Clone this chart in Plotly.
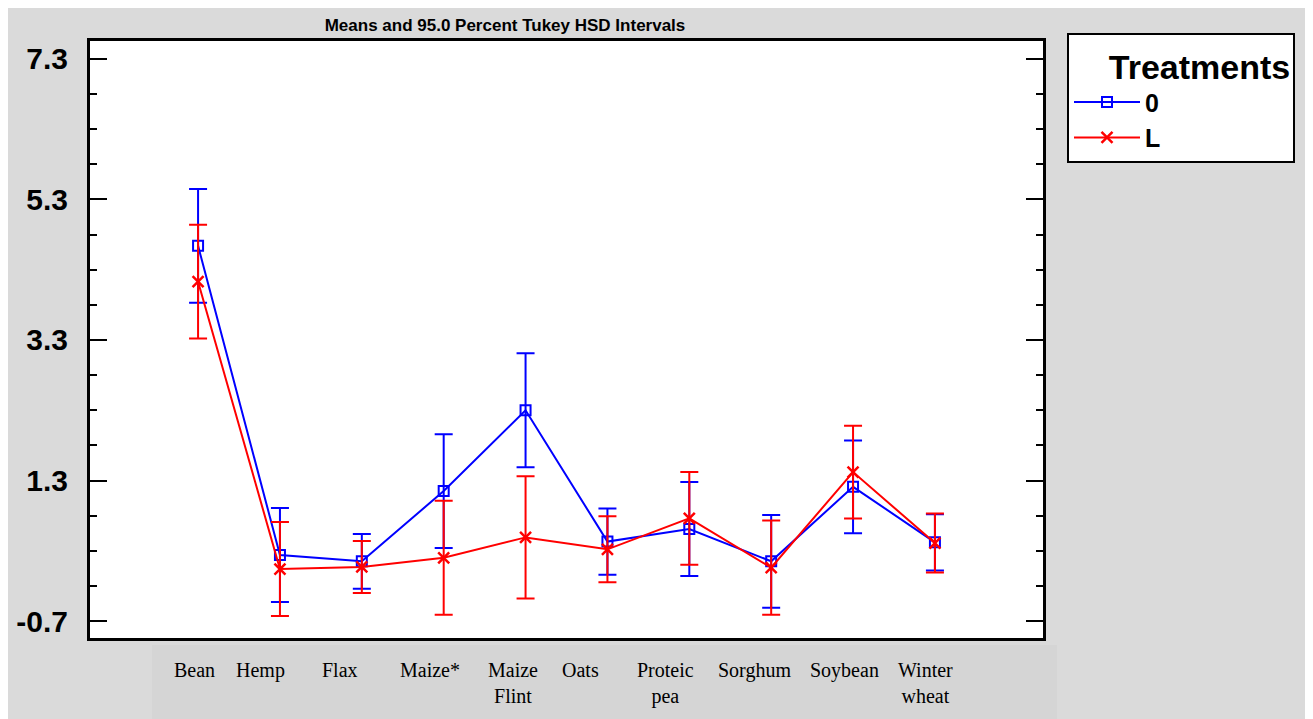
import plotly.graph_objects as go

# ---- data ----
categories = ["Bean", "Hemp", "Flax", "Maize*", "Maize Flint", "Oats",
              "Proteic pea", "Sorghum", "Soybean", "Winter wheat"]
tick_labels = ["Bean", "Hemp", "Flax", "Maize*", "Maize<br>Flint", "Oats",
               "Proteic<br>pea", "Sorghum", "Soybean", "Winter<br>wheat"]
means_0 = [4.64, 0.24, 0.15, 1.15, 2.30, 0.43, 0.61, 0.15, 1.21, 0.42]
err_0   = [0.81, 0.67, 0.39, 0.81, 0.81, 0.47, 0.67, 0.66, 0.66, 0.40]
means_L = [4.13, 0.04, 0.07, 0.20, 0.49, 0.32, 0.76, 0.06, 1.42, 0.41]
err_L   = [0.81, 0.67, 0.37, 0.81, 0.87, 0.47, 0.66, 0.67, 0.66, 0.42]
series_names = ["0", "L"]
legend_title = "Treatments"
y_ticks = [-0.7, 1.3, 3.3, 5.3, 7.3]

# style: horizontal pixel shift of each category label (labels sit left of points)
label_shift_px = [-4, -19, -22, -14, -13, -27, -24, -17, -9, -9]

# the page body adds an 8px white margin on top/left (matches reference border)
OFF = 8
W, H = 1313 - OFF, 719 - OFF
PLOT_L, PLOT_R, PLOT_T, PLOT_B = 90, 1043, 41, 638   # screen pixels
ML, MR, MT, MB = PLOT_L - OFF, 1313 - PLOT_R, PLOT_T - OFF, 719 - PLOT_B
PW, PH = W - ML - MR, H - MT - MB

def px_x(p):  # screen pixel -> paper x
    return (p - OFF - ML) / PW

def px_y(p):  # screen pixel -> paper y
    return (H - MB - (p - OFF)) / PH

fig = go.Figure()
fig.add_trace(go.Scatter(
    x=categories, y=means_0, name=series_names[0], mode="lines+markers",
    line=dict(color="#0000ff", width=2),
    marker=dict(symbol="square-open", size=10, color="#0000ff",
                line=dict(width=2, color="#0000ff")),
    error_y=dict(type="data", array=err_0, color="#0000ff", thickness=2, width=9),
))
fig.add_trace(go.Scatter(
    x=categories, y=means_L, name=series_names[1], mode="lines+markers",
    line=dict(color="#ff0000", width=2),
    marker=dict(symbol="x-thin", size=11, color="#ff0000",
                line=dict(width=2.5, color="#ff0000")),
    error_y=dict(type="data", array=err_L, color="#ff0000", thickness=2, width=9),
))

label_font = dict(family="Liberation Serif, Times New Roman, serif", size=20, color="black")
annotations = [
    dict(x=cat, xref="x", y=px_y(657), yref="paper", text=lab, showarrow=False,
         xanchor="center", yanchor="top", xshift=sh, font=label_font, align="center")
    for cat, lab, sh in zip(categories, tick_labels, label_shift_px)
]

bg = "#dadada"
fig.update_layout(
    width=W, height=H,
    margin=dict(l=ML, r=MR, t=MT, b=MB, pad=0, autoexpand=False),
    paper_bgcolor=bg, plot_bgcolor="white",
    title=dict(text="<b>Means and 95.0 Percent Tukey HSD Intervals</b>",
               x=(505 - OFF) / W, xref="container", xanchor="center",
               y=1 - (25 - OFF) / H, yref="container", yanchor="middle",
               font=dict(family="Liberation Sans Narrow, Arial Narrow, Liberation Sans, Arial",
                         size=17, color="black")),
    xaxis=dict(
        type="category", categoryorder="array", categoryarray=categories,
        range=[-1.32, 10.32],
        showticklabels=False,
        showline=True, linecolor="black", linewidth=3, mirror=True,
        showgrid=False, zeroline=False, ticks="",
    ),
    yaxis=dict(
        range=[-0.942, 7.556],
        tickmode="array", tickvals=y_ticks, ticktext=[str(v) for v in y_ticks],
        showline=True, linecolor="black", linewidth=3, mirror="allticks",
        showgrid=False, zeroline=False,
        ticks="inside", ticklen=17, tickwidth=2, tickcolor="black",
        minor=dict(tickmode="linear", tick0=-0.7, dtick=0.5, ticks="inside",
                   ticklen=7, tickwidth=2, tickcolor="black", showgrid=False),
        tickfont=dict(family="Arial, Liberation Sans", size=30, color="black", weight="bold"),
        ticklabelstandoff=13,
    ),
    legend=dict(
        x=px_x(1067), y=px_y(33), xanchor="left", yanchor="top",
        bgcolor="white", bordercolor="black", borderwidth=2,
        title=dict(text="\u00a0\u00a0\u00a0\u00a0<b>" + legend_title + "</b>", side="top",
                   font=dict(family="Arial, Liberation Sans", size=34, color="black")),
        font=dict(family="Arial, Liberation Sans", size=25, color="black", weight="bold"),
        itemwidth=66, tracegroupgap=0,
    ),
    showlegend=True,
    annotations=annotations,
    shapes=[
        # label band
        dict(type="rect", xref="paper", yref="paper",
             x0=px_x(152), x1=px_x(1057), y0=px_y(719), y1=px_y(645),
             fillcolor="#d5d5d5", line=dict(width=0), layer="below"),
    ],
)

fig.write_html("out.html")
